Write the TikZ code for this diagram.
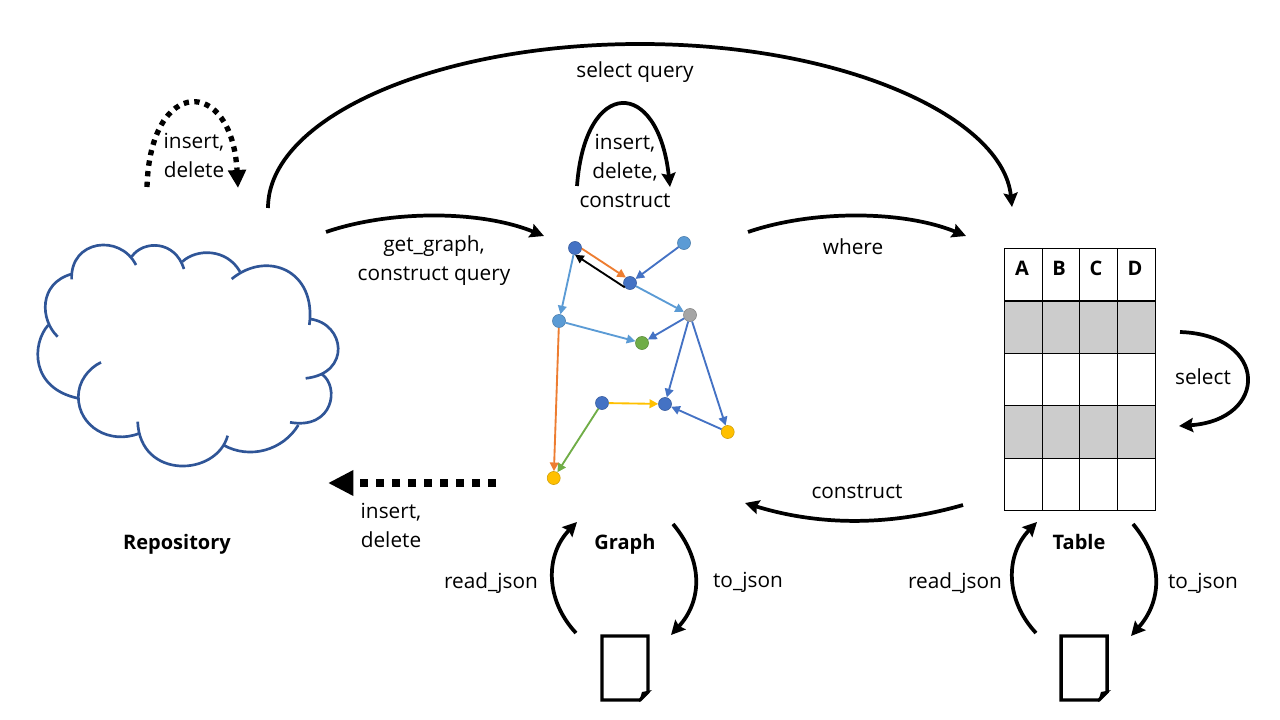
\documentclass[tikz,border=0pt]{standalone}
\usepackage{fontspec}
\setmainfont{Open Sans}
\usetikzlibrary{arrows.meta}
\definecolor{cblue}{HTML}{4472C4}
\definecolor{clight}{HTML}{5B9BD5}
\definecolor{corange}{HTML}{ED7D31}
\definecolor{cyellow}{HTML}{FFC000}
\definecolor{cgreen}{HTML}{70AD47}
\definecolor{cgray}{HTML}{A5A5A5}
\definecolor{ccloud}{HTML}{2F5597}
\definecolor{ccell}{HTML}{CCCCCC}
\tikzset{
  lbl/.style={font=\fontsize{15.6}{21.75}\selectfont,align=center,inner sep=0pt,text=black},
  bold/.style={lbl,font=\fontsize{15}{21.75}\selectfont\bfseries},
  vertex/.style={circle,draw=#1!80!black,line width=.4pt,fill=#1,minimum size=9.8pt,inner sep=0pt},
  gedge/.style={draw=#1,line width=1.4pt,-{Triangle[length=6.5pt,width=6.5pt]}},
  flow/.style={draw=black,line width=2.8pt,-{Stealth[length=10.5pt,width=10.5pt,inset=1.5pt]}},
  dotflow/.style={draw=black,line width=4pt,dash pattern=on 4pt off 4pt,-{Triangle[length=13.5pt,width=13pt]}},
  dotflowb/.style={draw=black,line width=6pt,dash pattern=on 6pt off 6pt,-{Triangle[length=19pt,width=18pt]}},
  cloudarc/.style={draw=ccloud,line width=2pt},
  grid/.style={draw=black,line width=.6pt},
  doc/.style={draw=black,line width=2.6pt,miter limit=4},
}
\begin{document}
\begin{tikzpicture}[x=.75pt,y=-.75pt]
\useasboundingbox (0,0) rectangle (1280,720);
% cloud
\begin{scope}[x=.25pt,y=-.25pt,shift={(15pt,-165pt)}]
\draw[cloudarc] (85,315) .. controls (35,370) and (30,505) .. (175,535);
\draw[cloudarc] (113,350) .. controls (60,300) and (55,190) .. (155,162);
\draw[cloudarc] (155,178) .. controls (150,60) and (300,40) .. (348,135);
\draw[cloudarc] (335,110) .. controls (370,60) and (465,60) .. (492,147);
\draw[cloudarc] (487,125) .. controls (530,85) and (620,85) .. (660,155);
\draw[cloudarc] (635,177) .. controls (740,90) and (890,150) .. (868,315);
\draw[cloudarc] (870,297) .. controls (975,310) and (995,460) .. (857,475);
\draw[cloudarc] (905,462) .. controls (960,500) and (940,630) .. (810,607);
\draw[cloudarc] (835,615) .. controls (790,690) and (690,720) .. (610,675);
\draw[cloudarc] (623,647) .. controls (590,770) and (360,780) .. (353,605);
\draw[cloudarc] (358,640) .. controls (270,675) and (175,620) .. (175,530) .. controls (175,485) and (205,445) .. (243,427);
\end{scope}
% table
\fill[ccell] (1004.7,300.7) rectangle (1155,353.3);
\fill[ccell] (1004.7,405.7) rectangle (1155,458.3);
\foreach \cx in {1004.7,1042.3,1079.7,1117.3,1155} \draw[grid] (\cx,248) -- (\cx,511);
\foreach \cy in {248,353.3,405.7,458.3,510.7} \draw[grid] (1004.7,\cy) -- (1155,\cy);
\draw[draw=black,line width=1.6pt] (1004.7,300.7) -- (1155,300.7);
\node[bold] (ca) at (1022,268) {A};
\node[bold] (cb) at (1059,268) {B};
\node[bold] (cc) at (1096,268) {C};
\node[bold] (cd) at (1135,268) {D};
% graph
\node[vertex=cblue]   (a) at (575,248) {};
\node[vertex=clight]  (b) at (684,243) {};
\node[vertex=cblue]   (c) at (630,283) {};
\node[vertex=cgray]   (d) at (690,315) {};
\node[vertex=clight]  (e) at (559,321) {};
\node[vertex=cgreen]  (f) at (642,343) {};
\node[vertex=cblue]   (g) at (602,403) {};
\node[vertex=cblue]   (h) at (665,404) {};
\node[vertex=cyellow] (i) at (727.7,432) {};
\node[vertex=cyellow] (j) at (553.7,478) {};
\draw[gedge=corange] (a.-5) -- (c.127);
\draw[gedge=black] (c.220) -- (a.270);
\draw[gedge=cblue] (b) -- (c);
\draw[gedge=clight] (c) -- (d);
\draw[gedge=clight] (a) -- (e);
\draw[gedge=clight] (e) -- (f);
\draw[gedge=cblue] (d) -- (f);
\draw[gedge=cblue] (d) -- (h);
\draw[gedge=cblue] (d) -- (i);
\draw[gedge=cblue] (i) -- (h);
\draw[gedge=cyellow] (g) -- (h);
\draw[gedge=cgreen] (g) -- (j);
\draw[gedge=corange] (e) -- (j);
% labels
\node[lbl] (tselect) at (635,72) {select query};
\node[lbl] (tins1) at (194,155.5) {insert,\\delete};
\node[lbl] (tins2) at (625,170.5) {insert,\\delete,\\construct};
\node[lbl] (tget) at (434,260.5) {get\_graph,\\construct query};
\node[lbl] (twhere) at (853,247) {where};
\node[lbl] (tsel) at (1203,377) {select};
\node[lbl] (tcon) at (857,492) {construct};
\node[lbl] (tins3) at (391,525.5) {insert,\\delete};
\node[bold] (trepo) at (177,544) {Repository};
\node[bold] (tgraph) at (625,544) {Graph};
\node[bold] (ttable) at (1079,542) {Table};
\node[lbl] (trj1) at (491,583) {read\_json};
\node[lbl] (ttj1) at (748,582) {to\_json};
\node[lbl] (trj2) at (955,583) {read\_json};
\node[lbl] (ttj2) at (1203,583) {to\_json};
% connector ends
\coordinate (s1) at (268,208); \coordinate (s1m) at (640,44); \coordinate (e1) at (1012,207);
\coordinate (s2) at (326,232); \coordinate (e2) at (544,236);
\coordinate (s3) at (748,232); \coordinate (e3) at (966,236);
\coordinate (s4) at (963,505); \coordinate (e4) at (745,503);
\coordinate (s5) at (1180,332); \coordinate (e5) at (1179,426);
\coordinate (s6) at (577,186); \coordinate (e6) at (670,187);
\coordinate (s7) at (147,187); \coordinate (e7) at (238,188);
\coordinate (s8) at (496,483); \coordinate (e8) at (328,483);
\coordinate (s9) at (576,633); \coordinate (e9) at (577,522);
\coordinate (s10) at (673,524); \coordinate (e10) at (671,635);
\coordinate (s11) at (1036,633); \coordinate (e11) at (1037,522);
\coordinate (s12) at (1133,524); \coordinate (e12) at (1131,636);
\draw[flow] (s1) .. controls (268,118) and (435,44) .. (s1m) .. controls (845,44) and (1003,118) .. (e1);
\draw[flow] (s2) .. controls (390,210) and (480,210) .. (e2);
\draw[flow] (s3) .. controls (812,210) and (902,210) .. (e3);
\draw[flow] (s4) .. controls (890,526) and (820,526) .. (e4);
\draw[flow] (s5) .. controls (1269,335) and (1269,420) .. (e5);
\draw[flow] (s6) .. controls (585,77) and (658,77) .. (e6);
\draw[dotflow] (s7) .. controls (150,76) and (232,76) .. (e7);
\draw[dotflowb] (s8) -- (e8);
\draw[flow] (s9) .. controls (545,600) and (545,555) .. (e9);
\draw[flow] (s10) .. controls (703,560) and (703,600) .. (e10);
\draw[flow] (s11) .. controls (1005,600) and (1005,555) .. (e11);
\draw[flow] (s12) .. controls (1163,560) and (1163,600) .. (e12);
% documents
\foreach \dx in {0,459}{
  \draw[doc] (602+\dx,636) -- (648+\dx,636) -- (648+\dx,692) -- (640+\dx,700) -- (602+\dx,700) -- cycle;
  \fill[black] (639+\dx,702) -- (652+\dx,690) -- (642+\dx,692) -- cycle;
}
\end{tikzpicture}
\end{document}
